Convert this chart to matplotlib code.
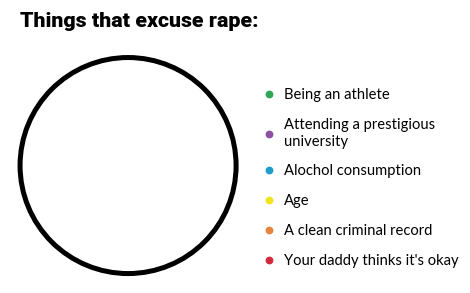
import matplotlib
matplotlib.use("Agg")
import matplotlib.pyplot as plt
from matplotlib.patches import Circle
from matplotlib.lines import Line2D

# dados: nada disso justifica, então todas as fatias valem zero
categorias = ["Being an athlete",
              "Attending a prestigious\nuniversity",
              "Alochol consumption",
              "Age",
              "A clean criminal record",
              "Your daddy thinks it's okay"]
valores = [0, 0, 0, 0, 0, 0]
cores = ["#2fa55a", "#8d4fa3", "#1e9ccc", "#f2e41c", "#e8843c", "#d22a3c"]

fig = plt.figure(figsize=(4.7, 2.93), dpi=100)
fig.patch.set_facecolor("white")

# eixo da pizza (vazia)
ax = fig.add_axes([0.0, 0.0, 0.545, 0.87])
ax.set_xlim(-1.18, 1.18)
ax.set_ylim(-1.18, 1.18)
ax.set_aspect("equal")
ax.axis("off")

total = sum(valores)
# sem fatias: só o contorno da pizza
ax.add_patch(Circle((0, 0), 1.0, fill=False, edgecolor="black", linewidth=3.6))

handles = [Line2D([], [], marker="o", linestyle="none", markersize=4.6,
                  markerfacecolor=c, markeredgecolor=c) for c in cores]
leg = fig.legend(handles, categorias, loc="upper left",
                 bbox_to_anchor=(0.562, 0.698), frameon=False,
                 prop={"family": ["Lato", "DejaVu Sans"], "size": 10.6},
                 labelspacing=1.08, handlelength=0.6, handletextpad=0.75,
                 borderpad=0, borderaxespad=0)

fig.text(0.042, 0.925, "Things that excuse rape:",
         family=["Roboto", "DejaVu Sans"],
         fontweight="black", fontsize=15.4, va="center", ha="left")

fig.savefig("out.png", dpi=100, facecolor="white")
